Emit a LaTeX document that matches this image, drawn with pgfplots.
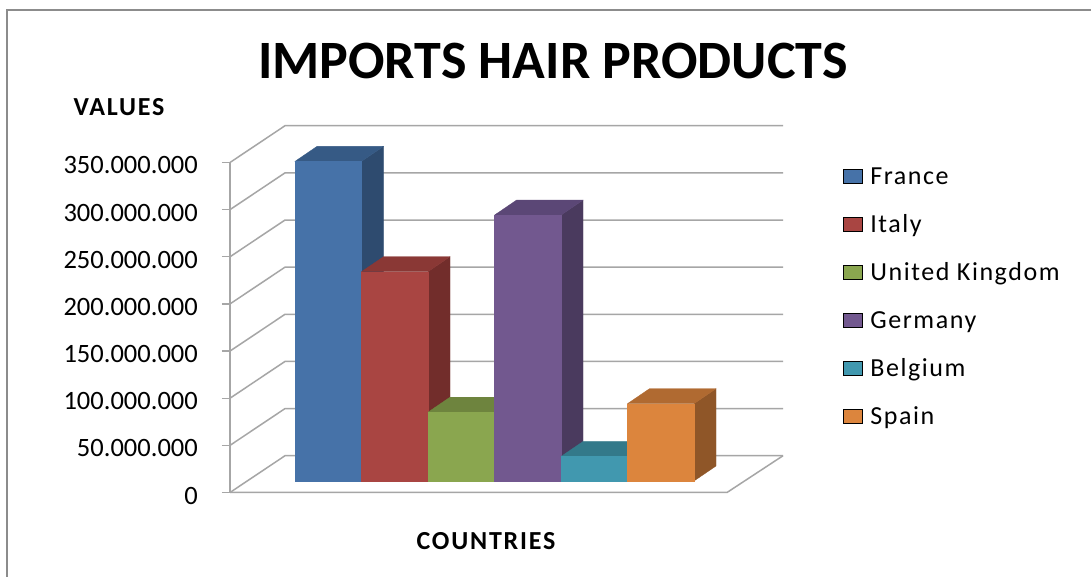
\documentclass[border=0pt]{standalone}
\usepackage{pgfplots}
\pgfplotsset{compat=1.18}
\usepackage{fontspec}
\setmainfont{Carlito}
\newfontfamily\tickfont{Carlito}
\newfontfamily\legfont[LetterSpace=6]{Carlito}
\newfontfamily\labfont[LetterSpace=7]{Carlito}
\newfontfamily\titlefont{Carlito}

\definecolor{frF}{HTML}{4672A8}\definecolor{frS}{HTML}{2E4B6F}\definecolor{frT}{HTML}{365A85}
\definecolor{itF}{HTML}{A94542}\definecolor{itS}{HTML}{722D2B}\definecolor{itT}{HTML}{8A3835}
\definecolor{ukF}{HTML}{8AA64F}\definecolor{ukS}{HTML}{5C7034}\definecolor{ukT}{HTML}{6E843E}
\definecolor{deF}{HTML}{72588F}\definecolor{deS}{HTML}{4A3A5E}\definecolor{deT}{HTML}{5B4776}
\definecolor{beF}{HTML}{4198AF}\definecolor{beS}{HTML}{2B6674}\definecolor{beT}{HTML}{33798A}
\definecolor{esF}{HTML}{DC853D}\definecolor{esS}{HTML}{8F5628}\definecolor{esT}{HTML}{B06A31}
\definecolor{gridgray}{HTML}{A6A6A6}
\definecolor{framegray}{HTML}{8C8C8C}

% #1 left x (px), #2 value (millions), #3 front, #4 side, #5 top colour
\newcommand\threedbar[5]{%
  \pgfmathsetmacro\xa{#1}%
  \pgfmathsetmacro\xb{#1+66.5}%
  \pgfmathsetmacro\xc{#1+66.5+22}%
  \pgfmathsetmacro\ya{12.2}%
  \pgfmathsetmacro\yb{12.2+#2}%
  \pgfmathsetmacro\yc{12.2+15.9}%
  \pgfmathsetmacro\yd{12.2+#2+15.9}%
  \pgfmathsetmacro\xd{#1+22}%
  \addplot[fill=#4, draw=#4, line width=0.3bp, forget plot] coordinates {(\xb,\ya) (\xc,\yc) (\xc,\yd) (\xb,\yb)} -- cycle;
  \addplot[fill=#5, draw=#5, line width=0.3bp, forget plot] coordinates {(\xa,\yb) (\xb,\yb) (\xc,\yd) (\xd,\yd)} -- cycle;
  \addplot[fill=#3, draw=#3, line width=0.3bp, forget plot] coordinates {(\xa,\ya) (\xb,\ya) (\xb,\yb) (\xa,\yb)} -- cycle;
}

\begin{document}
\begin{tikzpicture}
\useasboundingbox (0bp,0bp) rectangle (1091bp,577bp);
\fill[white] (0bp,0bp) rectangle (1091bp,577bp);
\draw[line width=2bp, framegray] (7bp,0bp) -- (7bp,567bp) -- (1091bp,567bp);

\begin{axis}[
  at={(230bp,84.5bp)}, anchor=south west,
  scale only axis, width=560bp, height=330bp,
  xmin=230, xmax=790, ymin=0, ymax=350,
  clip=false,
  axis x line=none, axis y line*=left,
  y axis line style={gridgray, line width=1.2bp},
  ytick={0,50,100,150,200,250,300,350},
  yticklabels={0,50.000.000,100.000.000,150.000.000,200.000.000,250.000.000,300.000.000,350.000.000},
  tick align=outside, major tick length=8bp,
  ytick style={gridgray, line width=1.2bp},
  yticklabel style={font=\tickfont\fontsize{26.5bp}{32bp}\selectfont, anchor=east, inner sep=0pt, xshift=-24bp, yshift=-3bp},
  legend style={at={(1.0946,0.9894)}, anchor=north west, draw=none, fill=none,
    inner sep=0pt, outer sep=0pt, row sep=24bp, column sep=8bp,
    font=\legfont\fontsize{26bp}{30bp}\selectfont,
    nodes={inner sep=0pt, text height=18bp, text depth=6bp},
    cells={anchor=base west}},
  legend image code/.code={\fill[#1] (0bp,1bp) rectangle (19bp,15bp);},
]
% back wall / floor grid
\addplot[gridgray, line width=1.5bp, forget plot] coordinates {(230,0) (285,39) (783,39)};
\addplot[gridgray, line width=1.5bp, forget plot] coordinates {(230,0) (727,0) (783,39)};
\addplot[gridgray, line width=1.5bp, forget plot] coordinates {(230,50) (285,89) (783,89)};
\addplot[gridgray, line width=1.5bp, forget plot] coordinates {(230,100) (285,139) (783,139)};
\addplot[gridgray, line width=1.5bp, forget plot] coordinates {(230,150) (285,189) (783,189)};
\addplot[gridgray, line width=1.5bp, forget plot] coordinates {(230,200) (285,239) (783,239)};
\addplot[gridgray, line width=1.5bp, forget plot] coordinates {(230,250) (285,289) (783,289)};
\addplot[gridgray, line width=1.5bp, forget plot] coordinates {(230,300) (285,339) (783,339)};
\addplot[gridgray, line width=1.5bp, forget plot] coordinates {(230,350) (285,389) (783,389)};

% bars: France, Italy, United Kingdom, Germany, Belgium, Spain
\threedbar{295}{339}{frF}{frS}{frT}
\threedbar{361.5}{222}{itF}{itS}{itT}
\threedbar{428}{73}{ukF}{ukS}{ukT}
\threedbar{494.5}{282}{deF}{deS}{deT}
\threedbar{561}{26}{beF}{beS}{beT}
\threedbar{627.5}{82}{esF}{esS}{esT}

\addlegendimage{fill=frF}\addlegendentry{France}
\addlegendimage{fill=itF}\addlegendentry{Italy}
\addlegendimage{fill=ukF}\addlegendentry{United Kingdom}
\addlegendimage{fill=deF}\addlegendentry{Germany}
\addlegendimage{fill=beF}\addlegendentry{Belgium}
\addlegendimage{fill=esF}\addlegendentry{Spain}
\end{axis}

\node[anchor=base, font=\titlefont\bfseries\fontsize{54bp}{60bp}\selectfont] at (553bp,498bp) {IMPORTS HAIR PRODUCTS};
\node[anchor=base, font=\labfont\bfseries\fontsize{26bp}{30bp}\selectfont] at (119bp,461bp) {VALUES};
\node[anchor=base, font=\labfont\bfseries\fontsize{26bp}{30bp}\selectfont] at (486bp,28bp) {COUNTRIES};
\end{tikzpicture}
\end{document}
